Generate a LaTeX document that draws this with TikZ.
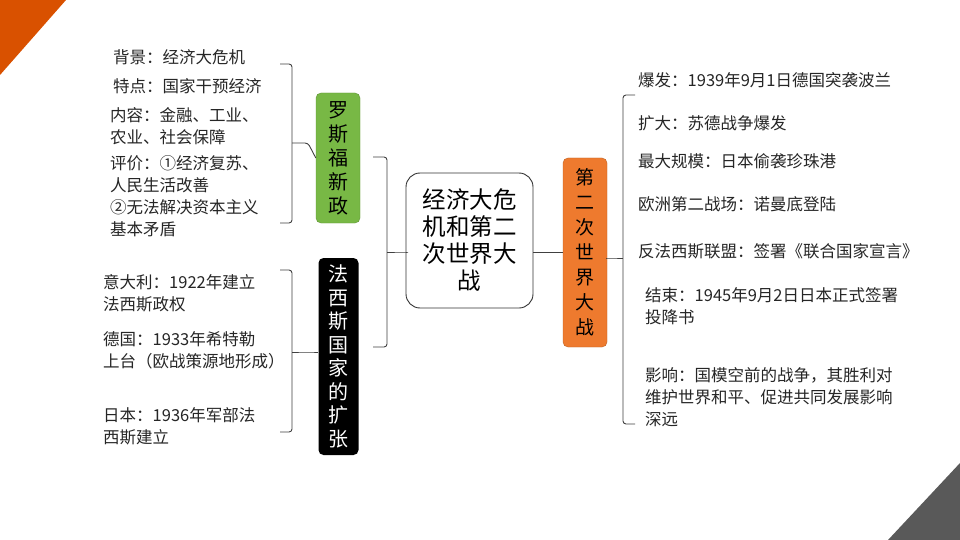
\documentclass[tikz,border=0pt]{standalone}
\usepackage{fontspec}
\setmainfont{Noto Sans CJK SC}
\definecolor{gbox}{HTML}{78B845}
\definecolor{obox}{HTML}{EE7A2E}
\begin{document}
\begin{tikzpicture}[x=1pt,y=-1pt,
  item/.style={anchor=north west,inner sep=0pt,align=left,font=\fontsize{16.5}{22}\selectfont,text=black!85},
  brace/.style={draw=black!75,line width=0.9pt,rounded corners=3pt},
  vbox/.style={rounded corners=5pt,align=center,inner sep=0pt,font=\fontsize{20}{24}\selectfont}]
\useasboundingbox (0,0) rectangle (960,540);
\fill[white] (0,0) rectangle (960,540);
\fill[orange!75!red!85!black] (0,0) -- (66,0) -- (0,75) -- cycle;
\fill[black!65] (960,463) -- (960,540) -- (888,540) -- cycle;
% center
\node[draw=black!80,line width=0.9pt,rounded corners=14pt,minimum width=127pt,minimum height=135pt,align=center,inner sep=0pt,font=\fontsize{23.5}{27}\selectfont] (c) at (469.5,240.5) {经济大危\\机和第二\\次世界大\\战};
% boxes
\node[vbox,fill=gbox,draw=gbox!80!black,minimum width=44pt,minimum height=130pt] (g) at (338,158) {罗\\斯\\福\\新\\政};
\node[vbox,fill=black,text=white,minimum width=40pt,minimum height=197pt,font=\fontsize{20}{23.5}\selectfont] (k) at (338.5,356.5) {法\\西\\斯\\国\\家\\的\\扩\\张};
\node[vbox,fill=obox,draw=obox!80!black,minimum width=44pt,minimum height=189pt,font=\fontsize{19}{25}\selectfont] (o) at (585,252.5) {第\\二\\次\\世\\界\\大\\战};
% connectors
\coordinate (b1) at (308,143);
\coordinate (b2) at (308,352);
\coordinate (b3) at (405,252);
\coordinate (b4) at (609,258);
\draw[brace] (280,64) -- (292,64) -- (292,223) -- (280,223);
\draw[brace] (292,143) -- (b1) -- (g.west);
\draw[brace] (280,270) -- (292,270) -- (292,432) -- (280,432);
\draw[brace] (292,352) -- (b2) -- (k.west |- b2);
\draw[brace] (373,157) -- (387,157) -- (387,347) -- (373,347);
\draw[brace] (387,252) -- (b3) -- (c.west |- b3);
\draw[brace] (c.east |- 0,252) -- (o.west |- 0,252);
\draw[brace] (635,95) -- (623,95) -- (623,424) -- (635,424);
\draw[brace] (623,258) -- (b4) -- (o.east |- b4);
% left items
\node[item] (l1) at (113,49) {背景：经济大危机};
\node[item] (l2) at (113,78) {特点：国家干预经济};
\node[item] (l3) at (110,107) {内容：金融、工业、\\农业、社会保障};
\node[item] (l4) at (110,155) {评价：①经济复苏、\\人民生活改善\\②无法解决资本主义\\基本矛盾};
\node[item] (l5) at (103,274) {意大利：1922年建立\\法西斯政权};
\node[item] (l6) at (103,331) {德国：1933年希特勒\\上台（欧战策源地形成）};
\node[item] (l7) at (103,407) {日本：1936年军部法\\西斯建立};
% right items
\node[item] (r1) at (638,72) {爆发：1939年9月1日德国突袭波兰};
\node[item] (r2) at (638,115) {扩大：苏德战争爆发};
\node[item] (r3) at (638,153) {最大规模：日本偷袭珍珠港};
\node[item] (r4) at (638,196) {欧洲第二战场：诺曼底登陆};
\node[item] (r5) at (638,243) {反法西斯联盟：签署《联合国家宣言》};
\node[item] (r6) at (645,287) {结束：1945年9月2日日本正式签署\\投降书};
\node[item] (r7) at (645,367) {影响：国模空前的战争，其胜利对\\维护世界和平、促进共同发展影响\\深远};
\end{tikzpicture}
\end{document}
